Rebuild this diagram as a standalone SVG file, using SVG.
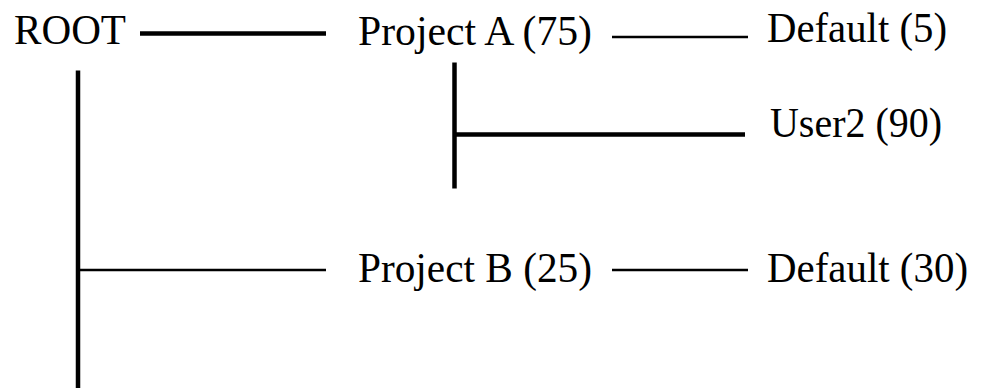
<svg xmlns="http://www.w3.org/2000/svg" width="985" height="388" viewBox="0 0 985 388">
<style>
text{font-family:"Liberation Serif","Times New Roman",serif;font-size:43px;fill:#000}
.thick{stroke:#000;stroke-width:4.5;fill:none}
.thin{stroke:#000;stroke-width:2.5;fill:none}
</style>
<rect width="985" height="388" fill="#fff"/>
<g id="connectors">
<line class="thick" x1="140" y1="33.5" x2="326" y2="33.5"/>
<line class="thick" x1="78" y1="70.5" x2="78" y2="388"/>
<line class="thin" x1="78" y1="270" x2="326" y2="270"/>
<line class="thin" x1="612" y1="37" x2="748" y2="37"/>
<line class="thick" x1="454.5" y1="62.5" x2="454.5" y2="188.5"/>
<line class="thick" x1="454.5" y1="134.5" x2="745" y2="134.5"/>
<line class="thin" x1="612" y1="270" x2="748" y2="270"/>
</g>
<g id="root"><text x="14" y="44" textLength="112" lengthAdjust="spacingAndGlyphs">ROOT</text></g>
<g id="projectA"><text x="358" y="44.5" textLength="234" lengthAdjust="spacingAndGlyphs">Project A (75)</text></g>
<g id="defaultA"><text x="767" y="42" textLength="180" lengthAdjust="spacingAndGlyphs">Default (5)</text></g>
<g id="user2"><text x="770" y="137" textLength="172" lengthAdjust="spacingAndGlyphs">User2 (90)</text></g>
<g id="projectB"><text x="358" y="281.5" textLength="234" lengthAdjust="spacingAndGlyphs">Project B (25)</text></g>
<g id="defaultB"><text x="767" y="281.5" textLength="201" lengthAdjust="spacingAndGlyphs">Default (30)</text></g>
</svg>
